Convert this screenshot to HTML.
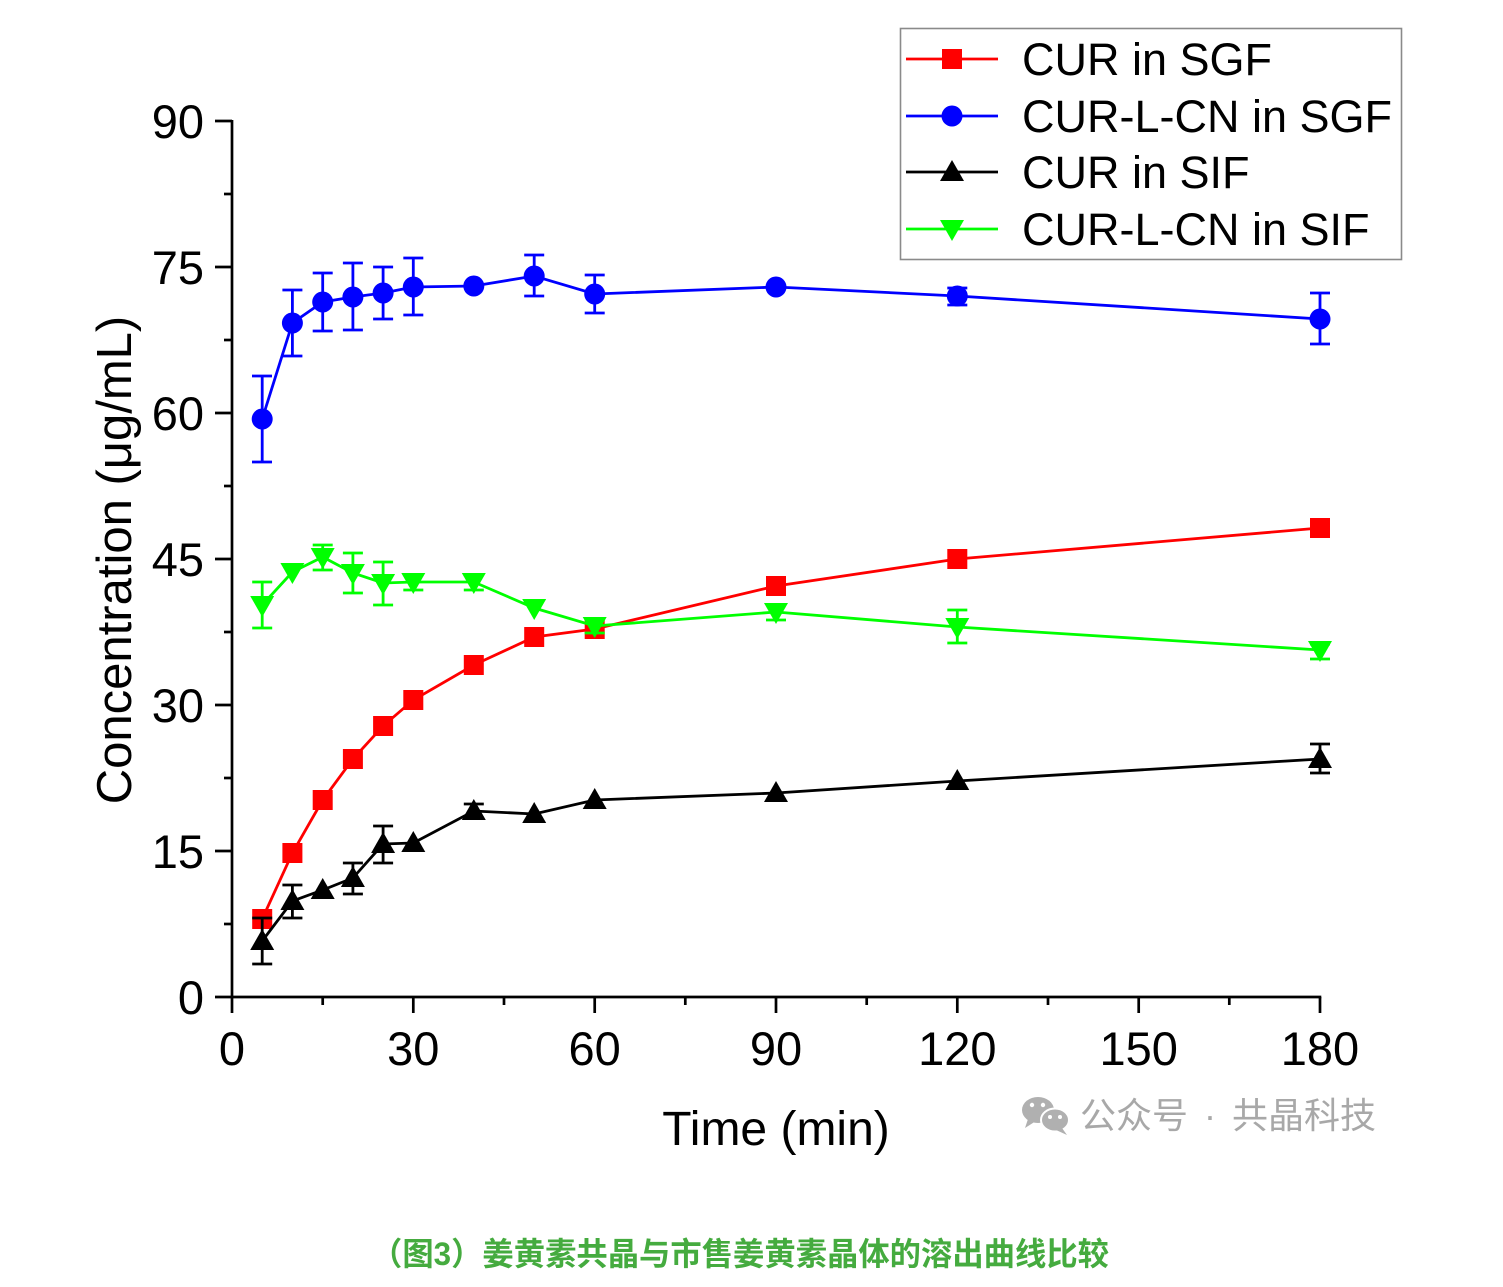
<!DOCTYPE html>
<html><head><meta charset="utf-8"><style>
html,body{margin:0;padding:0;background:#fff;}
svg{display:block;}
</style></head><body>
<svg width="1503" height="1287" viewBox="0 0 1503 1287" xmlns="http://www.w3.org/2000/svg" font-family="'Liberation Sans', Arial, sans-serif">
<rect width="1503" height="1287" fill="#fff"/>
<!-- axes -->
<g stroke="#000" stroke-width="2.7" fill="none">
<line x1="232" y1="120" x2="232" y2="998.3"/>
<line x1="230.7" y1="997" x2="1321.3" y2="997"/>
<line x1="215" y1="997" x2="232" y2="997"/>
<line x1="215" y1="851" x2="232" y2="851"/>
<line x1="215" y1="705" x2="232" y2="705"/>
<line x1="215" y1="559" x2="232" y2="559"/>
<line x1="215" y1="413" x2="232" y2="413"/>
<line x1="215" y1="267" x2="232" y2="267"/>
<line x1="215" y1="121" x2="232" y2="121"/>
<line x1="224" y1="924" x2="232" y2="924"/>
<line x1="224" y1="778" x2="232" y2="778"/>
<line x1="224" y1="632" x2="232" y2="632"/>
<line x1="224" y1="486" x2="232" y2="486"/>
<line x1="224" y1="340" x2="232" y2="340"/>
<line x1="224" y1="194" x2="232" y2="194"/>
<line x1="232" y1="997" x2="232" y2="1013"/>
<line x1="413.3" y1="997" x2="413.3" y2="1013"/>
<line x1="594.7" y1="997" x2="594.7" y2="1013"/>
<line x1="776" y1="997" x2="776" y2="1013"/>
<line x1="957.3" y1="997" x2="957.3" y2="1013"/>
<line x1="1138.7" y1="997" x2="1138.7" y2="1013"/>
<line x1="1320" y1="997" x2="1320" y2="1013"/>
<line x1="322.7" y1="997" x2="322.7" y2="1005"/>
<line x1="504" y1="997" x2="504" y2="1005"/>
<line x1="685.3" y1="997" x2="685.3" y2="1005"/>
<line x1="866.7" y1="997" x2="866.7" y2="1005"/>
<line x1="1048" y1="997" x2="1048" y2="1005"/>
<line x1="1229.3" y1="997" x2="1229.3" y2="1005"/>
</g>
<!-- tick labels -->
<g font-size="47" fill="#000" text-anchor="end">
<text x="204" y="1014">0</text>
<text x="204" y="868">15</text>
<text x="204" y="722">30</text>
<text x="204" y="576">45</text>
<text x="204" y="430">60</text>
<text x="204" y="284">75</text>
<text x="204" y="138">90</text>
</g>
<g font-size="47" fill="#000" text-anchor="middle">
<text x="232" y="1065">0</text>
<text x="413.3" y="1065">30</text>
<text x="594.7" y="1065">60</text>
<text x="776" y="1065">90</text>
<text x="957.3" y="1065">120</text>
<text x="1138.7" y="1065">150</text>
<text x="1320" y="1065">180</text>
</g>
<text x="776" y="1145" font-size="48" text-anchor="middle" fill="#000">Time (min)</text>
<text transform="translate(131,560) rotate(-90)" font-size="49" text-anchor="middle" fill="#000">Concentration (μg/mL)</text>

<!-- RED: CUR in SGF -->
<g stroke="#ff0000" stroke-width="2.8" fill="none">
<polyline points="262.2,919 292.4,853 322.7,800 352.9,759 383.1,726 413.3,700 473.8,665 534.2,637 594.7,629 776,586 957.3,559 1320,528"/>
<path d="M262.2,912V926M253,912H271M253,926H271"/>
</g>
<g fill="#ff0000">
<rect x="252.2" y="909" width="20" height="20"/>
<rect x="282.4" y="843" width="20" height="20"/>
<rect x="312.7" y="790" width="20" height="20"/>
<rect x="342.9" y="749" width="20" height="20"/>
<rect x="373.1" y="716" width="20" height="20"/>
<rect x="403.3" y="690" width="20" height="20"/>
<rect x="463.8" y="655" width="20" height="20"/>
<rect x="524.2" y="627" width="20" height="20"/>
<rect x="584.7" y="619" width="20" height="20"/>
<rect x="766" y="576" width="20" height="20"/>
<rect x="947.3" y="549" width="20" height="20"/>
<rect x="1310" y="518" width="20" height="20"/>
</g>

<!-- BLUE: CUR-L-CN in SGF -->
<g stroke="#0000ff" stroke-width="2.8" fill="none">
<polyline points="262.2,419 292.4,323 322.7,302 352.9,297 383.1,293 413.3,287 473.8,286 534.2,276 594.7,294 776,287 957.3,296 1320,319"/>
<path d="M262.2,376V462M252,376H272M252,462H272"/>
<path d="M292.4,290V356M282.4,290H302.4M282.4,356H302.4"/>
<path d="M322.7,273V331M312.7,273H332.7M312.7,331H332.7"/>
<path d="M352.9,263V330M342.9,263H362.9M342.9,330H362.9"/>
<path d="M383.1,267V319M373.1,267H393.1M373.1,319H393.1"/>
<path d="M413.3,258V315M403.3,258H423.3M403.3,315H423.3"/>
<path d="M534.2,255V296M524.2,255H544.2M524.2,296H544.2"/>
<path d="M594.7,275V313M584.7,275H604.7M584.7,313H604.7"/>
<path d="M957.3,288V305M947.3,288H967.3M947.3,305H967.3"/>
<path d="M1320,293V344M1310,293H1330M1310,344H1330"/>
</g>
<g fill="#0000ff">
<circle cx="262.2" cy="419" r="10.5"/>
<circle cx="292.4" cy="323" r="10.5"/>
<circle cx="322.7" cy="302" r="10.5"/>
<circle cx="352.9" cy="297" r="10.5"/>
<circle cx="383.1" cy="293" r="10.5"/>
<circle cx="413.3" cy="287" r="10.5"/>
<circle cx="473.8" cy="286" r="10.5"/>
<circle cx="534.2" cy="276" r="10.5"/>
<circle cx="594.7" cy="294" r="10.5"/>
<circle cx="776" cy="287" r="10.5"/>
<circle cx="957.3" cy="296" r="10.5"/>
<circle cx="1320" cy="319" r="10.5"/>
</g>

<!-- BLACK: CUR in SIF -->
<g stroke="#000" stroke-width="2.8" fill="none">
<polyline points="262.2,941 292.4,901 322.7,890 352.9,878 383.1,844 413.3,843 473.8,811 534.2,814 594.7,800 776,793 957.3,781 1320,759"/>
<path d="M262.2,918V964M252.2,918H272.2M252.2,964H272.2"/>
<path d="M292.4,885V918M282.4,885H302.4M282.4,918H302.4"/>
<path d="M352.9,863V894M342.9,863H362.9M342.9,894H362.9"/>
<path d="M383.1,826V863M373.1,826H393.1M373.1,863H393.1"/>
<path d="M473.8,804V818M463.8,804H483.8M463.8,818H483.8"/>
<path d="M1320,744V773M1310,744H1330M1310,773H1330"/>
</g>
<g fill="#000">
<path d="M262.2,929L274.2,950L250.2,950Z"/>
<path d="M292.4,889L304.4,910L280.4,910Z"/>
<path d="M322.7,878L334.7,899L310.7,899Z"/>
<path d="M352.9,866L364.9,887L340.9,887Z"/>
<path d="M383.1,832L395.1,853L371.1,853Z"/>
<path d="M413.3,831L425.3,852L401.3,852Z"/>
<path d="M473.8,799L485.8,820L461.8,820Z"/>
<path d="M534.2,802L546.2,823L522.2,823Z"/>
<path d="M594.7,788L606.7,809L582.7,809Z"/>
<path d="M776,781L788,802L764,802Z"/>
<path d="M957.3,769L969.3,790L945.3,790Z"/>
<path d="M1320,747L1332,768L1308,768Z"/>
</g>

<!-- GREEN: CUR-L-CN in SIF -->
<g stroke="#00ff00" stroke-width="2.8" fill="none">
<polyline points="262.2,605 292.4,572 322.7,557 352.9,573 383.1,583 413.3,582 473.8,582 534.2,608 594.7,626 776,612 957.3,627 1320,650"/>
<path d="M262.2,582V628M252.2,582H272.2M252.2,628H272.2"/>
<path d="M322.7,545V570M312.7,545H332.7M312.7,570H332.7"/>
<path d="M352.9,553V593M342.9,553H362.9M342.9,593H362.9"/>
<path d="M383.1,562V605M373.1,562H393.1M373.1,605H393.1"/>
<path d="M413.3,575V590M403.3,575H423.3M403.3,590H423.3"/>
<path d="M473.8,575V590M463.8,575H483.8M463.8,590H483.8"/>
<path d="M594.7,619V633M584.7,619H604.7M584.7,633H604.7"/>
<path d="M776,605V620M766,605H786M766,620H786"/>
<path d="M957.3,610V643M947.3,610H967.3M947.3,643H967.3"/>
<path d="M1320,644V659M1310,644H1330M1310,659H1330"/>
</g>
<g fill="#00ff00">
<path d="M262.2,617L250.2,596L274.2,596Z"/>
<path d="M292.4,584L280.4,563L304.4,563Z"/>
<path d="M322.7,569L310.7,548L334.7,548Z"/>
<path d="M352.9,585L340.9,564L364.9,564Z"/>
<path d="M383.1,595L371.1,574L395.1,574Z"/>
<path d="M413.3,594L401.3,573L425.3,573Z"/>
<path d="M473.8,594L461.8,573L485.8,573Z"/>
<path d="M534.2,620L522.2,599L546.2,599Z"/>
<path d="M594.7,638L582.7,617L606.7,617Z"/>
<path d="M776,624L764,603L788,603Z"/>
<path d="M957.3,639L945.3,618L969.3,618Z"/>
<path d="M1320,662L1308,641L1332,641Z"/>
</g>

<!-- legend -->
<rect x="900.5" y="28.5" width="501" height="231" fill="#fff" stroke="#8a8a8a" stroke-width="1.6"/>
<g stroke-width="2.8">
<line x1="906" y1="59" x2="998" y2="59" stroke="#ff0000"/>
<line x1="906" y1="116" x2="998" y2="116" stroke="#0000ff"/>
<line x1="906" y1="172" x2="998" y2="172" stroke="#000"/>
<line x1="906" y1="229" x2="998" y2="229" stroke="#00ff00"/>
</g>
<rect x="942" y="49" width="20" height="20" fill="#ff0000"/>
<circle cx="952" cy="116" r="10.5" fill="#0000ff"/>
<path d="M952,160L964,181L940,181Z" fill="#000"/>
<path d="M952,241L940,220L964,220Z" fill="#00ff00"/>
<g font-size="45" fill="#000">
<text x="1022" y="75">CUR in SGF</text>
<text x="1022" y="132">CUR-L-CN in SGF</text>
<text x="1022" y="188">CUR in SIF</text>
<text x="1022" y="245">CUR-L-CN in SIF</text>
</g>

<!-- watermark -->
<g fill="#b0b0b0">
<ellipse cx="1038" cy="1110" rx="16" ry="13"/>
<path d="M1028,1119L1025,1128L1036,1121Z"/>
<ellipse cx="1055" cy="1120" rx="14" ry="11.5" stroke="#fff" stroke-width="2"/>
<path d="M1062,1128L1067,1135L1056,1130Z"/>
</g>
<g fill="#fff">
<circle cx="1032" cy="1105" r="2.2"/>
<circle cx="1043" cy="1105" r="2.2"/>
<circle cx="1050" cy="1117" r="2"/>
<circle cx="1060" cy="1117" r="2"/>
</g>
<text x="1080" y="1128" font-size="36" fill="#a8a8a8" font-family="'Liberation Sans','Noto Sans CJK SC',sans-serif">公众号</text>
<text x="1210" y="1128" font-size="36" fill="#a8a8a8" text-anchor="middle" font-family="'Liberation Sans','Noto Sans CJK SC',sans-serif">·</text>
<text x="1232" y="1128" font-size="36" fill="#a8a8a8" font-family="'Liberation Sans','Noto Sans CJK SC',sans-serif">共晶科技</text>

<!-- caption -->
<text x="371" y="1265" font-size="32" font-weight="bold" fill="#45ab3f" textLength="738" lengthAdjust="spacingAndGlyphs" font-family="'Liberation Sans','Noto Sans CJK SC',sans-serif">（图3）姜黄素共晶与市售姜黄素晶体的溶出曲线比较</text>
</svg>
</body></html>
